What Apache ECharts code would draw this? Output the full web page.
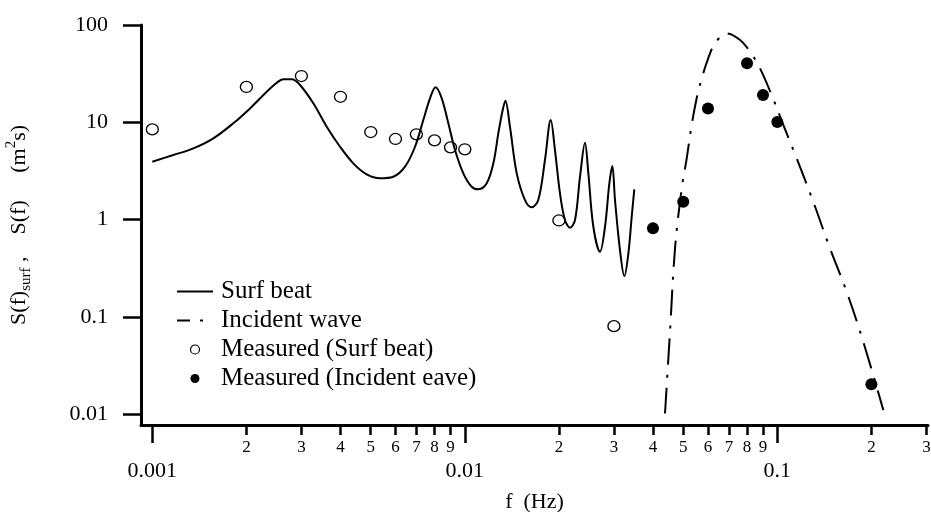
<!DOCTYPE html>
<html>
<head>
<meta charset="utf-8">
<script src="https://cdn.jsdelivr.net/npm/echarts@6/dist/echarts.min.js"></script>
<style>
html,body{margin:0;padding:0;background:#fff;}
#chart{width:931px;height:512px;}
</style>
</head>
<body>
<div id="chart"></div>
<script>
// ---- Data ----
const surfBeatF = [0.001, 0.001167, 0.001353, 0.001568, 0.001816, 0.002054, 0.002323, 0.0025, 0.002626, 0.002793,
  0.002969, 0.003275, 0.003615, 0.003988, 0.004395, 0.004853, 0.005353, 0.005905, 0.006436, 0.006928,
  0.007365, 0.007737, 0.008066, 0.008436, 0.008857, 0.009302, 0.00989, 0.01052, 0.01105, 0.01175,
  0.01234, 0.0128, 0.01322, 0.01348, 0.01395, 0.01466, 0.01558, 0.01637, 0.01718, 0.01805,
  0.01883, 0.01943, 0.02016, 0.02092, 0.02171, 0.02252, 0.02337, 0.02424, 0.02485, 0.02578,
  0.02707, 0.02809, 0.02901, 0.02965, 0.03024, 0.03137, 0.0324, 0.03337, 0.0342, 0.03486];
const surfBeatS = [3.94, 4.61, 5.40, 6.85, 9.77, 13.9, 20.6, 25.5, 27.7, 27.7,
  24.2, 15.7, 9.01, 5.61, 3.79, 2.92, 2.66, 2.76, 3.50, 5.61,
  10.56, 17.65, 22.9, 17.65, 9.77, 5.19, 2.99, 2.18, 2.05, 2.36,
  3.79, 7.71, 13.38, 16.67, 8.95, 2.99, 1.59, 1.34, 1.59, 4.10,
  10.56, 5.19, 1.86, 0.99, 0.825, 0.99, 2.76, 6.17, 2.99, 0.845,
  0.468, 0.845, 2.36, 3.56, 1.59, 0.487, 0.263, 0.45, 1.07, 2.05];

const incidentF = [0.04371, 0.04535, 0.04706, 0.04943, 0.0513, 0.0532, 0.0552, 0.0573, 0.0601, 0.0632,
  0.0689, 0.0760, 0.0818, 0.0880, 0.0959, 0.1045, 0.1153, 0.1303, 0.1474, 0.1667, 0.1884, 0.2184];
const incidentS = [0.0102, 0.0705, 0.507, 2.10, 4.27, 9.4, 17.7, 28.3, 45.5, 64.9,
  82, 70.2, 53.2, 35.9, 19.1, 9.4, 4.27, 1.53, 0.507, 0.1815, 0.0556, 0.01104];

const measSurfF = [0.001, 0.002, 0.003, 0.004, 0.005, 0.006, 0.007, 0.008, 0.009, 0.01, 0.02, 0.03];
const measSurfS = [8.47, 23.1, 29.9, 18.3, 7.95, 6.74, 7.53, 6.53, 5.53, 5.28, 0.98, 0.0805];

const measIncF = [0.04, 0.05, 0.06, 0.07, 0.08, 0.09, 0.1, 0.2];
const measIncS = [0.814, 1.53, 13.9, 101.7, 40.4, 19.1, 10.1, 0.0203];

const xMinorTicks = [0.002, 0.003, 0.004, 0.005, 0.006, 0.007, 0.008, 0.009,
  0.02, 0.03, 0.04, 0.05, 0.06, 0.07, 0.08, 0.09, 0.2, 0.3];
const xMinorLabels = ['2','3','4','5','6','7','8','9','2','3','4','5','6','7','8','9','2','3'];
const xMajorTicks = [0.001, 0.01, 0.1];
const xMajorLabels = ['0.001', '0.01', '0.1'];
const yTicks = [0.01, 0.1, 1, 10, 100];
const yLabels = ['0.01', '0.1', '1', '10', '100'];

const seriesNames = ['Surf beat', 'Incident wave', 'Measured (Surf beat)', 'Measured (Incident eave)'];

// ---- Chart ----
const FONT = "'Liberation Serif', 'Times New Roman', serif";
const X_MIN = 0.00092, X_MAX = 0.3035, Y_MIN = 0.00776, Y_MAX = 100;

function zip(a, b) { return a.map((v, i) => [v, b[i]]); }
function lookup(vals, labels) {
  return function (v) {
    for (let i = 0; i < vals.length; i++) {
      if (Math.abs(Math.log10(v) - Math.log10(vals[i])) < 1e-6) return labels[i];
    }
    return '';
  };
}

const chart = echarts.init(document.getElementById('chart'), null, {renderer: 'canvas'});
const baseX = {
  type: 'log', logBase: 10, min: X_MIN, max: X_MAX, position: 'bottom',
  splitLine: {show: false}, minorTick: {show: false}, minorSplitLine: {show: false}
};
chart.setOption({
  animation: false,
  backgroundColor: '#fff',
  grid: {left: 141, right: 3, top: 25, bottom: 87, containLabel: false, outerBoundsMode: 'none'},
  xAxis: [
    Object.assign({}, baseX, {
      name: 'f  (Hz)', nameLocation: 'middle', nameGap: 66,
      nameTextStyle: {fontFamily: FONT, fontSize: 22, color: '#000'},
      axisLine: {show: true, lineStyle: {color: '#000', width: 3}},
      axisTick: {show: true, inside: false, length: 10, lineStyle: {color: '#000', width: 2.5}, customValues: xMinorTicks},
      axisLabel: {show: true, margin: 14, fontFamily: FONT, fontSize: 17, color: '#000',
        customValues: xMinorTicks, formatter: lookup(xMinorTicks, xMinorLabels)}
    }),
    Object.assign({}, baseX, {
      axisLine: {show: false},
      axisTick: {show: true, inside: false, length: 18, lineStyle: {color: '#000', width: 2.5}, customValues: xMajorTicks},
      axisLabel: {show: true, margin: 35, fontFamily: FONT, fontSize: 22, color: '#000',
        customValues: xMajorTicks, formatter: lookup(xMajorTicks, xMajorLabels)}
    })
  ],
  yAxis: {
    type: 'log', logBase: 10, min: Y_MIN, max: Y_MAX,
    splitLine: {show: false}, minorTick: {show: false},
    axisLine: {show: true, lineStyle: {color: '#000', width: 3}},
    axisTick: {show: true, inside: false, length: 18, lineStyle: {color: '#000', width: 2.5}, customValues: yTicks},
    axisLabel: {show: true, margin: 33, fontFamily: FONT, fontSize: 22, color: '#000',
      customValues: yTicks, formatter: lookup(yTicks, yLabels)},
    name: '{a|S(f)}{b|surf}{a| ,    S(f)     (m}{c|2}{a|s)}',
    nameLocation: 'middle', nameRotate: 90, nameGap: 107,
    nameTextStyle: {
      fontFamily: FONT, fontSize: 22, color: '#000',
      rich: {
        a: {fontFamily: FONT, fontSize: 22, color: '#000', lineHeight: 30},
        b: {fontFamily: FONT, fontSize: 15, color: '#000', verticalAlign: 'bottom', lineHeight: 18},
        c: {fontFamily: FONT, fontSize: 15, color: '#000', verticalAlign: 'top', lineHeight: 18}
      }
    }
  },
  legend: {
    orient: 'vertical', left: 176, top: 277, padding: 0,
    itemWidth: 36, itemHeight: 9, itemGap: 0, symbolKeepAspect: true,
    textStyle: {fontFamily: FONT, fontSize: 25, color: '#000', lineHeight: 29, padding: [0, 0, 0, 3]},
    lineStyle: {width: 2},
    data: [
      {name: seriesNames[0]},
      {name: seriesNames[1], lineStyle: {type: [13, 10, 3, 10], width: 2}},
      {name: seriesNames[2], icon: 'circle', itemStyle: {color: '#fff', borderColor: '#000', borderWidth: 1.2}},
      {name: seriesNames[3], icon: 'circle', itemStyle: {color: '#000', borderWidth: 0}}
    ]
  },
  series: [
    {
      name: seriesNames[0], type: 'line', data: zip(surfBeatF, surfBeatS),
      symbol: 'none', smooth: 0.35, clip: true,
      lineStyle: {color: '#000', width: 2, type: 'solid'},
      itemStyle: {color: '#000', opacity: 0}
    },
    {
      name: seriesNames[1], type: 'line', data: zip(incidentF, incidentS),
      symbol: 'none', smooth: 0.35, clip: true,
      lineStyle: {color: '#000', width: 2, type: [26, 10, 3, 10]},
      itemStyle: {color: '#000', opacity: 0}
    },
    {
      name: seriesNames[2], type: 'scatter', data: zip(measSurfF, measSurfS),
      symbol: 'circle', symbolSize: [12, 11],
      itemStyle: {color: 'rgba(0,0,0,0)', borderColor: '#000', borderWidth: 1.3, opacity: 1},
      z: 3
    },
    {
      name: seriesNames[3], type: 'scatter', data: zip(measIncF, measIncS),
      symbol: 'circle', symbolSize: 12,
      itemStyle: {color: '#000', opacity: 1},
      z: 3
    }
  ]
});
</script>
</body>
</html>
